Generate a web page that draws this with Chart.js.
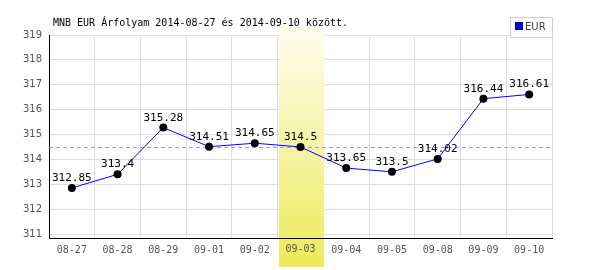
<!DOCTYPE html>
<html>
<head>
<meta charset="utf-8">
<script src="https://cdn.jsdelivr.net/npm/chart.js@4"></script>
<style>
  html, body { margin: 0; padding: 0; background: #fff; }
  #wrap { width: 600px; height: 270px; }
</style>
</head>
<body>
<div id="wrap"><canvas id="chart" width="600" height="270"></canvas></div>
<script>
// MNB EUR rates
const titleText = 'MNB EUR Árfolyam 2014-08-27 és 2014-09-10 között.';
const seriesName = 'EUR';
const days = ['08-27', '08-28', '08-29', '09-01', '09-02', '09-03', '09-04', '09-05', '09-08', '09-09', '09-10'];
const rates = [312.85, 313.4, 315.28, 314.51, 314.65, 314.5, 313.65, 313.5, 314.02, 316.44, 316.61];
const yTicks = [311, 312, 313, 314, 315, 316, 317, 318, 319];
const avgRate = 314.49;
const highlightDay = '09-03';

const mono = "'DejaVu Sans Mono', monospace";

// background band, average line, point labels, title and legend
const decorations = {
    id: 'decorations',
    beforeDatasetsDraw(chart) {
        const { ctx, chartArea } = chart;
        const x = chart.scales.x;
        const y = chart.scales.y;
        const i = days.indexOf(highlightDay);
        const half = (x.getPixelForValue(1) - x.getPixelForValue(0)) / 2;
        const cx = x.getPixelForValue(i);

        ctx.save();
        const grad = ctx.createLinearGradient(0, 27, 0, 267);
        grad.addColorStop(0, '#fdfdef');
        grad.addColorStop(1, '#eeea5a');
        ctx.fillStyle = grad;
        ctx.fillRect(Math.round(cx - half) + 1, 27, Math.round(half * 2) - 1, 240);

        // redraw bottom axis and the tick label over the band
        ctx.strokeStyle = '#000';
        ctx.lineWidth = 1;
        ctx.beginPath();
        ctx.moveTo(chartArea.left, Math.round(chartArea.bottom) + 0.5);
        ctx.lineTo(chartArea.right, Math.round(chartArea.bottom) + 0.5);
        ctx.stroke();
        ctx.fillStyle = '#555';
        ctx.font = '10px ' + mono;
        ctx.textAlign = 'center';
        ctx.textBaseline = 'top';
        ctx.fillText(highlightDay, cx, chartArea.bottom + 6);

        // average line
        const ay = Math.round(y.getPixelForValue(avgRate)) + 0.5;
        ctx.strokeStyle = '#9999ff';
        ctx.setLineDash([4, 3]);
        ctx.beginPath();
        ctx.moveTo(chartArea.left, ay);
        ctx.lineTo(chartArea.right, ay);
        ctx.stroke();
        ctx.restore();
    },
    afterDatasetsDraw(chart) {
        const { ctx } = chart;
        const meta = chart.getDatasetMeta(0);
        ctx.save();
        ctx.font = '11px ' + mono;
        ctx.fillStyle = '#000';
        ctx.textAlign = 'center';
        ctx.textBaseline = 'alphabetic';
        meta.data.forEach((pt, idx) => {
            ctx.fillText(String(rates[idx]), pt.x, pt.y - 7);
        });

        // title
        ctx.font = '10px ' + mono;
        ctx.textAlign = 'left';
        ctx.fillText(titleText, 53, 26);

        // legend
        ctx.fillStyle = '#fff';
        ctx.fillRect(510, 17, 42, 20);
        ctx.strokeStyle = '#d0d0d0';
        ctx.lineWidth = 1;
        ctx.strokeRect(510.5, 17.5, 42, 20);
        ctx.fillStyle = '#0000ff';
        ctx.fillRect(516, 23, 6, 6);
        ctx.strokeStyle = '#000080';
        ctx.strokeRect(515.5, 22.5, 7, 7);
        ctx.fillStyle = '#444';
        ctx.font = "10px 'DejaVu Sans', sans-serif";
        ctx.textBaseline = 'middle';
        ctx.fillText(seriesName, 525, 27);
        ctx.restore();
    }
};

new Chart(document.getElementById('chart'), {
    type: 'line',
    data: {
        labels: days,
        datasets: [{
            label: seriesName,
            data: rates,
            borderColor: '#0000ff',
            borderWidth: 1,
            tension: 0,
            pointRadius: 4,
            pointBackgroundColor: '#000',
            pointBorderColor: '#000',
            pointBorderWidth: 0,
            fill: false
        }]
    },
    options: {
        responsive: false,
        animation: false,
        events: [],
        layout: { padding: { top: 35, right: 48, left: 0, bottom: 0 } },
        plugins: {
            legend: { display: false },
            title: { display: false },
            tooltip: { enabled: false }
        },
        scales: {
            x: {
                offset: true,
                grid: { offset: true, color: '#dddddd', drawTicks: false },
                border: { color: '#000' },
                ticks: { color: '#555', font: { family: mono, size: 10 }, padding: 6, maxRotation: 0 },
                afterFit(scale) { scale.height = 32; }
            },
            y: {
                min: 310.84,
                max: 319,
                grid: { color: '#dddddd', drawTicks: false },
                border: { color: '#000' },
                ticks: { color: '#555', font: { family: "'DejaVu Sans', sans-serif", size: 10 }, padding: 7 },
                afterBuildTicks(scale) { scale.ticks = yTicks.map(v => ({ value: v })); },
                afterFit(scale) { scale.width = 49; }
            }
        }
    },
    plugins: [decorations]
});
</script>
</body>
</html>
